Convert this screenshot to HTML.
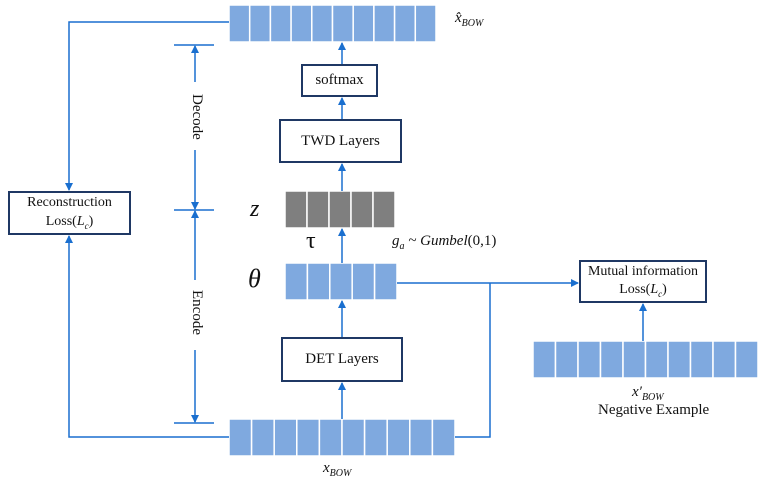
<!DOCTYPE html>
<html><head><style>
body{margin:0;background:#fff;width:760px;height:487px;overflow:hidden;font-family:"Liberation Serif",serif}
.box{position:absolute;border:2px solid #1f3864;background:#fff;box-sizing:border-box;display:flex;align-items:center;justify-content:center;text-align:center;font-size:15px;color:#111;line-height:1.35}
.t{position:absolute;color:#111}
</style></head><body>
<svg width="760" height="487" style="position:absolute;left:0;top:0">
<defs><marker id="a" markerWidth="8" markerHeight="8" refX="7" refY="4" orient="auto" markerUnits="userSpaceOnUse"><path d="M0,0 L8,4 L0,8 z" fill="#1a6fcf"/></marker></defs>
<g fill="#7fa9df" stroke="#fff" stroke-width="1.5">
<rect x="229" y="5" width="20.7" height="37"/><rect x="249.7" y="5" width="20.7" height="37"/><rect x="270.4" y="5" width="20.7" height="37"/><rect x="291.1" y="5" width="20.7" height="37"/><rect x="311.8" y="5" width="20.7" height="37"/><rect x="332.5" y="5" width="20.7" height="37"/><rect x="353.2" y="5" width="20.7" height="37"/><rect x="373.9" y="5" width="20.7" height="37"/><rect x="394.6" y="5" width="20.7" height="37"/><rect x="415.3" y="5" width="20.7" height="37"/>
<rect x="285" y="263" width="22.4" height="37"/><rect x="307.4" y="263" width="22.4" height="37"/><rect x="329.8" y="263" width="22.4" height="37"/><rect x="352.2" y="263" width="22.4" height="37"/><rect x="374.6" y="263" width="22.4" height="37"/>
<rect x="229" y="419" width="22.6" height="37"/><rect x="251.6" y="419" width="22.6" height="37"/><rect x="274.2" y="419" width="22.6" height="37"/><rect x="296.8" y="419" width="22.6" height="37"/><rect x="319.4" y="419" width="22.6" height="37"/><rect x="342" y="419" width="22.6" height="37"/><rect x="364.6" y="419" width="22.6" height="37"/><rect x="387.2" y="419" width="22.6" height="37"/><rect x="409.8" y="419" width="22.6" height="37"/><rect x="432.4" y="419" width="22.6" height="37"/>
<rect x="533" y="341" width="22.5" height="37"/><rect x="555.5" y="341" width="22.5" height="37"/><rect x="578" y="341" width="22.5" height="37"/><rect x="600.5" y="341" width="22.5" height="37"/><rect x="623" y="341" width="22.5" height="37"/><rect x="645.5" y="341" width="22.5" height="37"/><rect x="668" y="341" width="22.5" height="37"/><rect x="690.5" y="341" width="22.5" height="37"/><rect x="713" y="341" width="22.5" height="37"/><rect x="735.5" y="341" width="22.5" height="37"/>
</g>
<g fill="#7f7f7f" stroke="#fff" stroke-width="1.5">
<rect x="285" y="191" width="22" height="37"/><rect x="307" y="191" width="22" height="37"/><rect x="329" y="191" width="22" height="37"/><rect x="351" y="191" width="22" height="37"/><rect x="373" y="191" width="22" height="37"/>
</g>
<g stroke="#1a6fcf" stroke-width="1.5" fill="none">
<line x1="342" y1="419" x2="342" y2="383" marker-end="url(#a)"/>
<line x1="342" y1="337" x2="342" y2="301" marker-end="url(#a)"/>
<line x1="342" y1="263" x2="342" y2="229" marker-end="url(#a)"/>
<line x1="342" y1="191" x2="342" y2="164" marker-end="url(#a)"/>
<line x1="342" y1="119" x2="342" y2="98" marker-end="url(#a)"/>
<line x1="342" y1="64" x2="342" y2="43" marker-end="url(#a)"/>
<polyline points="229,22 69,22 69,190" marker-end="url(#a)"/>
<polyline points="229,437 69,437 69,236" marker-end="url(#a)"/>
<polyline points="397,283 578,283" marker-end="url(#a)"/>
<polyline points="455,437 490,437 490,283"/>
<line x1="643" y1="341" x2="643" y2="304" marker-end="url(#a)"/>
<line x1="174" y1="45" x2="214" y2="45"/><line x1="174" y1="210" x2="214" y2="210"/><line x1="174" y1="423" x2="214" y2="423"/>
<line x1="195" y1="82" x2="195" y2="46" marker-end="url(#a)"/>
<line x1="195" y1="150" x2="195" y2="209" marker-end="url(#a)"/>
<line x1="195" y1="280" x2="195" y2="211" marker-end="url(#a)"/>
<line x1="195" y1="350" x2="195" y2="422" marker-end="url(#a)"/>
</g>
</svg>
<div class="t" style="left:188px;top:94px;width:14px;height:54px;"><div style="transform:rotate(90deg);transform-origin:0 0;position:absolute;left:17px;top:0;font-size:15px;white-space:nowrap">Decode</div></div>
<div class="t" style="left:188px;top:290px;width:14px;height:54px;"><div style="transform:rotate(90deg);transform-origin:0 0;position:absolute;left:17px;top:0;font-size:15px;white-space:nowrap">Encode</div></div>
<div class="box" style="left:301px;top:64px;width:77px;height:33px"><div>softmax</div></div>
<div class="box" style="left:279px;top:119px;width:123px;height:44px"><div>TWD Layers</div></div>
<div class="box" style="left:281px;top:337px;width:122px;height:45px"><div>DET Layers</div></div>
<div class="box" style="left:8px;top:191px;width:123px;height:44px;font-size:14px"><div>Reconstruction<br>Loss(<i>L<sub style="font-size:9px">c</sub></i>)</div></div>
<div class="box" style="left:579px;top:260px;width:128px;height:43px;font-size:14px"><div>Mutual information<br>Loss(<i>L<sub style="font-size:9px">c</sub></i>)</div></div>
<div class="t" style="left:455px;top:10px;font-size:15px;font-style:italic">x̂<sub style="font-size:10px">BOW</sub></div>
<div class="t" style="left:250px;top:196px;font-size:24px;font-style:italic">z</div>
<div class="t" style="left:306px;top:228px;font-size:24px">τ</div>
<div class="t" style="left:392px;top:233px;font-size:15px;font-style:italic">g<sub style="font-size:10px">a</sub> ~ Gumbel<span style="font-style:normal">(0,1)</span></div>
<div class="t" style="left:248px;top:264px;font-size:26px;font-style:italic">θ</div>
<div class="t" style="left:323px;top:460px;font-size:15px;font-style:italic">x<sub style="font-size:10px">BOW</sub></div>
<div class="t" style="left:632px;top:384px;font-size:15px;font-style:italic">x′<sub style="font-size:10px">BOW</sub></div>
<div class="t" style="left:598px;top:402px;font-size:15px">Negative Example</div>
</body></html>
